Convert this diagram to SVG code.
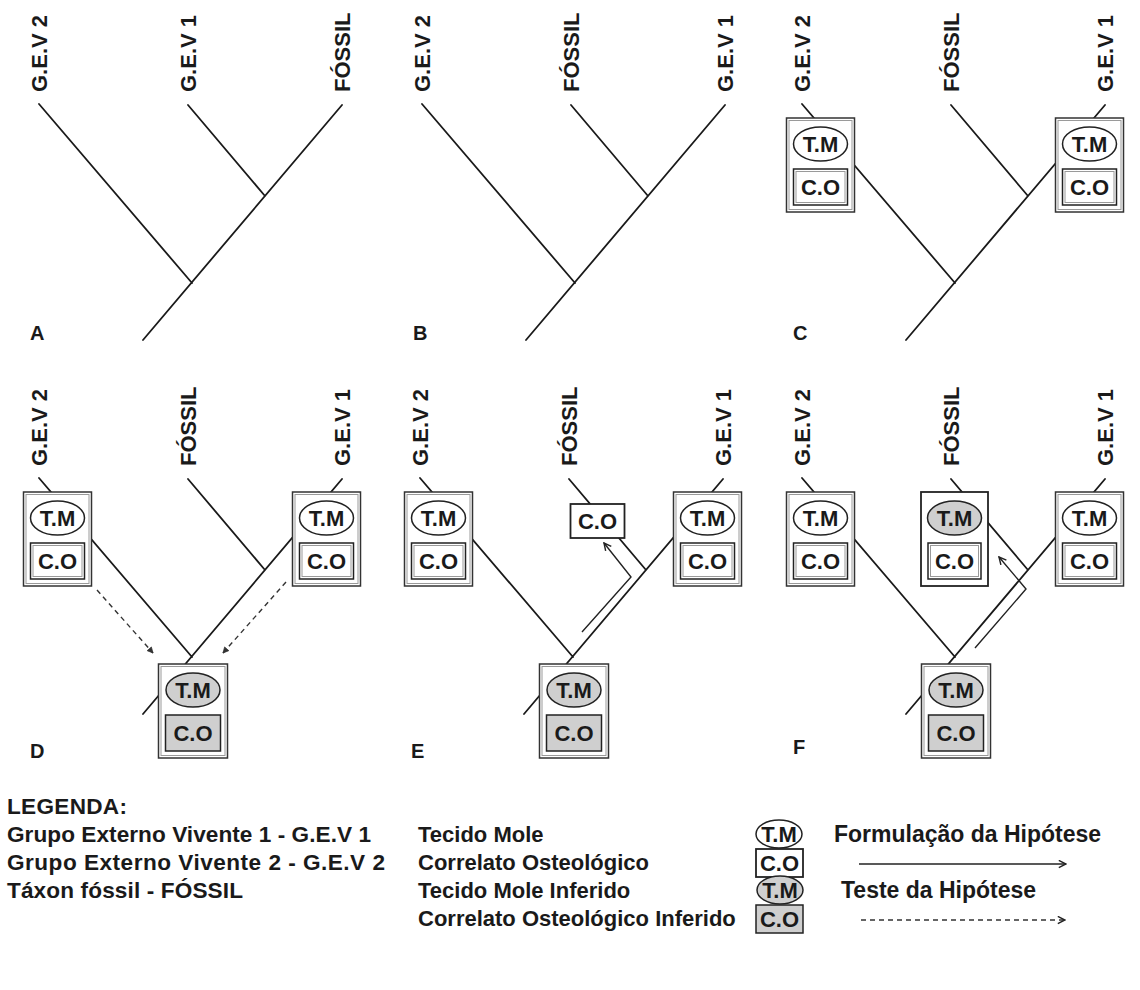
<svg xmlns="http://www.w3.org/2000/svg" width="1140" height="990" viewBox="0 0 1140 990">
<defs>
<style>
text{font-family:"Liberation Sans",Arial,sans-serif;font-weight:bold;fill:#1a1a1a}
.lbl{font-size:22px}
.bx{font-size:22px;text-anchor:middle}
.pl{font-size:20px}
.leg{font-size:22px}
.leg1{font-size:22.6px}
.leg3{font-size:23px}
.br{stroke:#1a1a1a;stroke-width:1.8;fill:none;stroke-linecap:round}
.ob{fill:#fff;stroke:#333;stroke-width:1.5}
.sb{fill:#fff;stroke:#222;stroke-width:1.8}
.ib{fill:none;stroke:#9a9a9a;stroke-width:1}
.el{fill:#fff;stroke:#222;stroke-width:1.5}
.elg{fill:#cfcfcf;stroke:#222;stroke-width:1.5}
.co{fill:#fff;stroke:#222;stroke-width:1.5}
.cog{fill:#cfcfcf;stroke:#222;stroke-width:1.5}
.arr{stroke:#222;stroke-width:1.4;fill:none;marker-end:url(#ah)}
.dash{stroke:#333;stroke-width:1.4;fill:none;stroke-dasharray:5 4;marker-end:url(#ah)}
.dashd{stroke:#333;stroke-width:1.4;fill:none;stroke-dasharray:5 4;marker-end:url(#ahs)}
</style>
<marker id="ah" viewBox="0 0 10 10" refX="9" refY="5" markerWidth="9" markerHeight="9" markerUnits="userSpaceOnUse" orient="auto">
<path d="M1,1 L9,5 L1,9" fill="none" stroke="#222" stroke-width="1.6"/>
</marker>
<marker id="ahs" viewBox="0 0 10 10" refX="9" refY="5" markerWidth="7" markerHeight="7" markerUnits="userSpaceOnUse" orient="auto">
<path d="M1,1 L9,5 L1,9 Z" fill="#333" stroke="#333" stroke-width="1"/>
</marker>
</defs>
<rect width="1140" height="990" fill="#fff"/>

<g id="connectors">
 <g id="con-A">
  <path class="br" d="M39,104 L192,283 M188,105 L265,196 M342,105 L143,340"/>
 </g>
 <g id="con-B" transform="translate(383,0)">
  <path class="br" d="M39,104 L192,283 M188,105 L265,196 M342,105 L143,340"/>
 </g>
 <g id="con-C" transform="translate(763,0)">
  <path class="br" d="M39,104 L192,283 M188,105 L265,196 M342,105 L143,340"/>
 </g>
 <g id="con-D" transform="translate(0,374)">
  <path class="br" d="M39,104 L192,283 M188,105 L265,196 M342,105 L143,340"/>
  <path class="dashd" d="M97,216 L153,279"/>
  <path class="dashd" d="M286,208 L223,279"/>
 </g>
 <g id="con-E" transform="translate(381,374)">
  <path class="br" d="M39,104 L192,283 M188,105 L265,196 M342,105 L143,340"/>
  <path class="arr" d="M201,258 L250,203 L223,169"/>
 </g>
 <g id="con-F" transform="translate(763,374)">
  <path class="br" d="M39,104 L192,283 M188,105 L265,196 M342,105 L143,340"/>
  <path class="arr" d="M212,274 L263,215 L236,183"/>
 </g>
</g>

<!-- Panel A -->
<g id="panel-A">
 <text class="lbl" transform="translate(47,92) rotate(-90)">G.E.V 2</text>
 <text class="lbl" transform="translate(196,92) rotate(-90)">G.E.V 1</text>
 <text class="lbl" transform="translate(350,92) rotate(-90)">FÓSSIL</text>
 <text class="pl" x="30" y="340">A</text>
</g>

<!-- Panel B -->
<g id="panel-B" transform="translate(383,0)">
 <text class="lbl" transform="translate(47,92) rotate(-90)">G.E.V 2</text>
 <text class="lbl" transform="translate(196,92) rotate(-90)">FÓSSIL</text>
 <text class="lbl" transform="translate(350,92) rotate(-90)">G.E.V 1</text>
 <text class="pl" x="30" y="340">B</text>
</g>

<!-- Panel C -->
<g id="panel-C" transform="translate(763,0)">
 <text class="lbl" transform="translate(47,92) rotate(-90)">G.E.V 2</text>
 <text class="lbl" transform="translate(196,92) rotate(-90)">FÓSSIL</text>
 <text class="lbl" transform="translate(350,92) rotate(-90)">G.E.V 1</text>
 <text class="pl" x="30" y="340">C</text>
 <g id="C-gev2">
  <rect class="ob" x="23.5" y="118" width="68" height="94"/><rect class="ib" x="26" y="120.5" width="63" height="89"/>
  <ellipse class="el" cx="57.5" cy="144" rx="27" ry="17"/><text class="bx" x="57.5" y="152">T.M</text>
  <rect class="co" x="30.5" y="169" width="54" height="36"/><rect class="ib" x="33" y="171.5" width="49" height="31"/>
  <text class="bx" x="57.5" y="195">C.O</text>
 </g>
 <g id="C-gev1">
  <rect class="ob" x="292.5" y="118" width="68" height="94"/><rect class="ib" x="295" y="120.5" width="63" height="89"/>
  <ellipse class="el" cx="326.5" cy="144" rx="27" ry="17"/><text class="bx" x="326.5" y="152">T.M</text>
  <rect class="co" x="299.5" y="169" width="54" height="36"/><rect class="ib" x="302" y="171.5" width="49" height="31"/>
  <text class="bx" x="326.5" y="195">C.O</text>
 </g>
</g>

<!-- Panel D -->
<g id="panel-D" transform="translate(0,374)">
 <text class="lbl" transform="translate(47,92) rotate(-90)">G.E.V 2</text>
 <text class="lbl" transform="translate(196,92) rotate(-90)">FÓSSIL</text>
 <text class="lbl" transform="translate(350,92) rotate(-90)">G.E.V 1</text>
 <text class="pl" x="30" y="384">D</text>
 <g id="D-gev2">
  <rect class="ob" x="23.5" y="118" width="68" height="94"/><rect class="ib" x="26" y="120.5" width="63" height="89"/>
  <ellipse class="el" cx="57.5" cy="144" rx="27" ry="17"/><text class="bx" x="57.5" y="152">T.M</text>
  <rect class="co" x="30.5" y="169" width="54" height="36"/><rect class="ib" x="33" y="171.5" width="49" height="31"/>
  <text class="bx" x="57.5" y="195">C.O</text>
 </g>
 <g id="D-gev1">
  <rect class="ob" x="292.5" y="118" width="68" height="94"/><rect class="ib" x="295" y="120.5" width="63" height="89"/>
  <ellipse class="el" cx="326.5" cy="144" rx="27" ry="17"/><text class="bx" x="326.5" y="152">T.M</text>
  <rect class="co" x="299.5" y="169" width="54" height="36"/><rect class="ib" x="302" y="171.5" width="49" height="31"/>
  <text class="bx" x="326.5" y="195">C.O</text>
 </g>
 <g id="D-root">
  <rect class="ob" x="158.5" y="290" width="69" height="94"/><rect class="ib" x="161" y="292.5" width="64" height="89"/>
  <ellipse class="elg" cx="193" cy="316" rx="27" ry="17"/><text class="bx" x="193" y="324">T.M</text>
  <rect class="cog" x="165.5" y="341" width="55" height="36"/>
  <text class="bx" x="193" y="367">C.O</text>
 </g>
</g>

<!-- Panel E -->
<g id="panel-E" transform="translate(381,374)">
 <text class="lbl" transform="translate(47,92) rotate(-90)">G.E.V 2</text>
 <text class="lbl" transform="translate(196,92) rotate(-90)">FÓSSIL</text>
 <text class="lbl" transform="translate(350,92) rotate(-90)">G.E.V 1</text>
 <text class="pl" x="30" y="384">E</text>
 <g id="E-gev2">
  <rect class="ob" x="23.5" y="118" width="68" height="94"/><rect class="ib" x="26" y="120.5" width="63" height="89"/>
  <ellipse class="el" cx="57.5" cy="144" rx="27" ry="17"/><text class="bx" x="57.5" y="152">T.M</text>
  <rect class="co" x="30.5" y="169" width="54" height="36"/><rect class="ib" x="33" y="171.5" width="49" height="31"/>
  <text class="bx" x="57.5" y="195">C.O</text>
 </g>
 <g id="E-fossil">
  <rect class="sb" x="189.5" y="130" width="54" height="34"/>
  <text class="bx" x="216.5" y="155">C.O</text>
 </g>
 <g id="E-gev1">
  <rect class="ob" x="292.5" y="118" width="68" height="94"/><rect class="ib" x="295" y="120.5" width="63" height="89"/>
  <ellipse class="el" cx="326.5" cy="144" rx="27" ry="17"/><text class="bx" x="326.5" y="152">T.M</text>
  <rect class="co" x="299.5" y="169" width="54" height="36"/><rect class="ib" x="302" y="171.5" width="49" height="31"/>
  <text class="bx" x="326.5" y="195">C.O</text>
 </g>
 <g id="E-root">
  <rect class="ob" x="158.5" y="290" width="69" height="94"/><rect class="ib" x="161" y="292.5" width="64" height="89"/>
  <ellipse class="elg" cx="193" cy="316" rx="27" ry="17"/><text class="bx" x="193" y="324">T.M</text>
  <rect class="cog" x="165.5" y="341" width="55" height="36"/>
  <text class="bx" x="193" y="367">C.O</text>
 </g>
</g>

<!-- Panel F -->
<g id="panel-F" transform="translate(763,374)">
 <text class="lbl" transform="translate(47,92) rotate(-90)">G.E.V 2</text>
 <text class="lbl" transform="translate(196,92) rotate(-90)">FÓSSIL</text>
 <text class="lbl" transform="translate(350,92) rotate(-90)">G.E.V 1</text>
 <text class="pl" x="30" y="380">F</text>
 <g id="F-gev2">
  <rect class="ob" x="23.5" y="118" width="68" height="94"/><rect class="ib" x="26" y="120.5" width="63" height="89"/>
  <ellipse class="el" cx="57.5" cy="144" rx="27" ry="17"/><text class="bx" x="57.5" y="152">T.M</text>
  <rect class="co" x="30.5" y="169" width="54" height="36"/><rect class="ib" x="33" y="171.5" width="49" height="31"/>
  <text class="bx" x="57.5" y="195">C.O</text>
 </g>
 <g id="F-fossil">
  <rect class="sb" x="158" y="118" width="67" height="94"/>
  <ellipse class="elg" cx="191.5" cy="144" rx="27" ry="17"/><text class="bx" x="191.5" y="152">T.M</text>
  <rect class="co" x="165" y="169" width="53" height="36"/><rect class="ib" x="167.5" y="171.5" width="48" height="31"/>
  <text class="bx" x="191.5" y="195">C.O</text>
 </g>
 <g id="F-gev1">
  <rect class="ob" x="292.5" y="118" width="68" height="94"/><rect class="ib" x="295" y="120.5" width="63" height="89"/>
  <ellipse class="el" cx="326.5" cy="144" rx="27" ry="17"/><text class="bx" x="326.5" y="152">T.M</text>
  <rect class="co" x="299.5" y="169" width="54" height="36"/><rect class="ib" x="302" y="171.5" width="49" height="31"/>
  <text class="bx" x="326.5" y="195">C.O</text>
 </g>
 <g id="F-root">
  <rect class="ob" x="158.5" y="290" width="69" height="94"/><rect class="ib" x="161" y="292.5" width="64" height="89"/>
  <ellipse class="elg" cx="193" cy="316" rx="27" ry="17"/><text class="bx" x="193" y="324">T.M</text>
  <rect class="cog" x="165.5" y="341" width="55" height="36"/>
  <text class="bx" x="193" y="367">C.O</text>
 </g>
</g>

<!-- Legend -->
<g id="legend">
 <text class="leg1" x="7" y="814" textLength="120">LEGENDA:</text>
 <text class="leg1" x="7" y="842" textLength="364">Grupo Externo Vivente 1 - G.E.V 1</text>
 <text class="leg1" x="7" y="870" textLength="378">Grupo Externo Vivente 2 - G.E.V 2</text>
 <text class="leg1" x="7" y="898" textLength="236">Táxon fóssil - FÓSSIL</text>
 <text class="leg" x="418" y="842">Tecido Mole</text>
 <text class="leg" x="418" y="870">Correlato Osteológico</text>
 <text class="leg" x="418" y="898">Tecido Mole Inferido</text>
 <text class="leg" x="418" y="926">Correlato Osteológico Inferido</text>
 <g id="leg-tm">
  <ellipse class="el" cx="779" cy="834" rx="23" ry="14"/><text class="bx" x="779" y="842">T.M</text>
 </g>
 <g id="leg-co">
  <rect class="sb" x="756" y="849" width="47" height="28"/><text class="bx" x="779.5" y="871">C.O</text>
 </g>
 <g id="leg-tmi">
  <ellipse class="elg" cx="780" cy="890" rx="23" ry="14"/><text class="bx" x="780" y="898">T.M</text>
 </g>
 <g id="leg-coi">
  <rect class="cog" x="756" y="905" width="47" height="28"/><text class="bx" x="779.5" y="927">C.O</text>
 </g>
 <text class="leg3" x="834" y="842">Formulação da Hipótese</text>
 <path class="arr" d="M859,864 L1066,864"/>
 <text class="leg3" x="841" y="898">Teste da Hipótese</text>
 <path class="dash" d="M861,920 L1065,920"/>
</g>
</svg>
